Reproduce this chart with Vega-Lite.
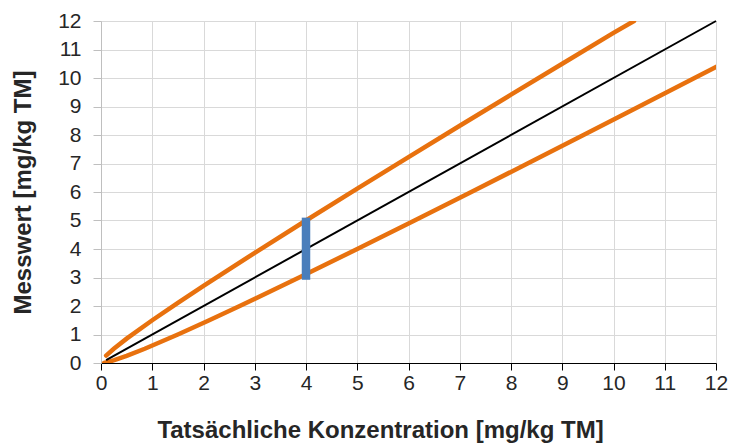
{
  "$schema": "https://vega.github.io/schema/vega-lite/v6.json",
  "width": 615,
  "height": 342,
  "autosize": "none",
  "padding": {"left": 101, "top": 21, "right": 14, "bottom": 80},
  "background": "white",
  "config": {
    "view": {"stroke": null},
    "font": "Liberation Sans",
    "axis": {
      "labelFont": "Liberation Sans",
      "labelFontSize": 21,
      "labelColor": "#262626",
      "titleFont": "Liberation Sans",
      "titleFontSize": 24,
      "titleFontWeight": "bold",
      "titleColor": "#262626",
      "gridColor": "#d9d9d9",
      "gridWidth": 1
    }
  },
  "datasets": {
    "lines": [
      {"series": "ideal", "x": 0.1, "y": 0.1},
      {"series": "ideal", "x": 12, "y": 12},
      {"series": "upper", "x": 0.1, "y": 0.26},
      {"series": "upper", "x": 0.25, "y": 0.5},
      {"series": "upper", "x": 0.5, "y": 0.854},
      {"series": "upper", "x": 1, "y": 1.5},
      {"series": "upper", "x": 1.5, "y": 2.112},
      {"series": "upper", "x": 2, "y": 2.707},
      {"series": "upper", "x": 3, "y": 3.866},
      {"series": "upper", "x": 4, "y": 5.0},
      {"series": "upper", "x": 5, "y": 6.118},
      {"series": "upper", "x": 6, "y": 7.225},
      {"series": "upper", "x": 7, "y": 8.323},
      {"series": "upper", "x": 8, "y": 9.414},
      {"series": "upper", "x": 9, "y": 10.5},
      {"series": "upper", "x": 10, "y": 11.581},
      {"series": "upper", "x": 10.4, "y": 12.0},
      {"series": "lower", "x": 0.06, "y": 0.0},
      {"series": "lower", "x": 0.162, "y": 0.05},
      {"series": "lower", "x": 0.258, "y": 0.1},
      {"series": "lower", "x": 0.5, "y": 0.25},
      {"series": "lower", "x": 0.854, "y": 0.5},
      {"series": "lower", "x": 1.5, "y": 1.0},
      {"series": "lower", "x": 2.112, "y": 1.5},
      {"series": "lower", "x": 2.707, "y": 2.0},
      {"series": "lower", "x": 3.866, "y": 3.0},
      {"series": "lower", "x": 5.0, "y": 4.0},
      {"series": "lower", "x": 6.118, "y": 5.0},
      {"series": "lower", "x": 7.225, "y": 6.0},
      {"series": "lower", "x": 8.323, "y": 7.0},
      {"series": "lower", "x": 9.414, "y": 8.0},
      {"series": "lower", "x": 10.5, "y": 9.0},
      {"series": "lower", "x": 11.581, "y": 10.0},
      {"series": "lower", "x": 12.0, "y": 10.39}
    ],
    "bar": [
      {"x": 4, "y": 2.92, "high": 5.1}
    ]
  },
  "encoding": {
    "x": {
      "field": "x", "type": "quantitative",
      "scale": {"domain": [0, 12], "nice": false, "zero": false},
      "axis": {
        "values": [0,1,2,3,4,5,6,7,8,9,10,11,12],
        "labelOverlap": false,
        "labelBound": false,
        "labelFlush": false,
        "title": "Tatsächliche Konzentration [mg/kg TM]",
        "titleX": 279,
        "titleY": 74,
        "titleAlign": "center",
        "titleBaseline": "alphabetic",
        "domainColor": "#000000",
        "domainWidth": 1.2,
        "tickColor": "#000000",
        "tickSize": 7,
        "labelPadding": 2,
        "grid": true
      }
    },
    "y": {
      "field": "y", "type": "quantitative",
      "scale": {"domain": [0, 12], "nice": false, "zero": false},
      "axis": {
        "values": [0,1,2,3,4,5,6,7,8,9,10,11,12],
        "labelOverlap": false,
        "labelBound": false,
        "labelFlush": false,
        "title": "Messwert [mg/kg TM]",
        "titleX": -78,
        "titleY": 171,
        "titleAngle": -90,
        "titleAlign": "center",
        "titleBaseline": "middle",
        "domainColor": "#bfbfbf",
        "tickColor": "#bfbfbf",
        "tickSize": 8,
        "labelPadding": 12,
        "grid": true
      }
    }
  },
  "layer": [
    {
      "data": {"name": "lines"},
      "transform": [{"filter": "datum.series !== 'ideal'"}],
      "mark": {"type": "line", "strokeWidth": 4.5, "color": "#E8710E", "strokeCap": "round", "clip": true},
      "encoding": {
        "detail": {"field": "series", "type": "nominal"}
      }
    },
    {
      "data": {"name": "lines"},
      "transform": [{"filter": "datum.series === 'ideal'"}],
      "mark": {"type": "line", "strokeWidth": 2, "color": "#000000"},
      "encoding": {}
    },
    {
      "data": {"name": "bar"},
      "mark": {"type": "rule", "strokeWidth": 8.5, "color": "#4A7EBB"},
      "encoding": {
        "y2": {"field": "high"}
      }
    }
  ]
}
